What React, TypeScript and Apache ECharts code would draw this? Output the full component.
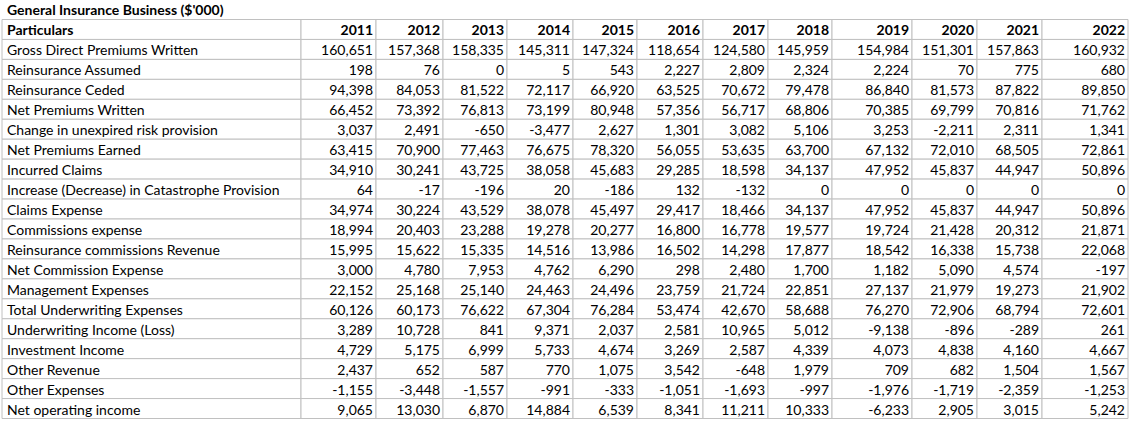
import React, { useEffect, useRef } from "react";
import * as echarts from "echarts";

const title = "General Insurance Business ($'000)";
const headerLabel = "Particulars";
const years = ["2011","2012","2013","2014","2015","2016","2017","2018","2019","2020","2021","2022"];
const particulars = [
  "Gross Direct Premiums Written",
  "Reinsurance Assumed",
  "Reinsurance Ceded",
  "Net Premiums Written",
  "Change in unexpired risk provision",
  "Net Premiums Earned",
  "Incurred Claims",
  "Increase (Decrease) in Catastrophe Provision",
  "Claims Expense",
  "Commissions expense",
  "Reinsurance commissions Revenue",
  "Net Commission Expense",
  "Management Expenses",
  "Total Underwriting Expenses",
  "Underwriting Income (Loss)",
  "Investment Income",
  "Other Revenue",
  "Other Expenses",
  "Net operating income",
];
const grossDirectPremiums = [160651,157368,158335,145311,147324,118654,124580,145959,154984,151301,157863,160932];
const reinsuranceAssumed = [198,76,0,5,543,2227,2809,2324,2224,70,775,680];
const reinsuranceCeded = [94398,84053,81522,72117,66920,63525,70672,79478,86840,81573,87822,89850];
const netPremiumsWritten = [66452,73392,76813,73199,80948,57356,56717,68806,70385,69799,70816,71762];
const changeUnexpiredRisk = [3037,2491,-650,-3477,2627,1301,3082,5106,3253,-2211,2311,1341];
const netPremiumsEarned = [63415,70900,77463,76675,78320,56055,53635,63700,67132,72010,68505,72861];
const incurredClaims = [34910,30241,43725,38058,45683,29285,18598,34137,47952,45837,44947,50896];
const catastropheProvision = [64,-17,-196,20,-186,132,-132,0,0,0,0,0];
const claimsExpense = [34974,30224,43529,38078,45497,29417,18466,34137,47952,45837,44947,50896];
const commissionsExpense = [18994,20403,23288,19278,20277,16800,16778,19577,19724,21428,20312,21871];
const reinsuranceCommissionsRevenue = [15995,15622,15335,14516,13986,16502,14298,17877,18542,16338,15738,22068];
const netCommissionExpense = [3000,4780,7953,4762,6290,298,2480,1700,1182,5090,4574,-197];
const managementExpenses = [22152,25168,25140,24463,24496,23759,21724,22851,27137,21979,19273,21902];
const totalUnderwritingExpenses = [60126,60173,76622,67304,76284,53474,42670,58688,76270,72906,68794,72601];
const underwritingIncome = [3289,10728,841,9371,2037,2581,10965,5012,-9138,-896,-289,261];
const investmentIncome = [4729,5175,6999,5733,4674,3269,2587,4339,4073,4838,4160,4667];
const otherRevenue = [2437,652,587,770,1075,3542,-648,1979,709,682,1504,1567];
const otherExpenses = [-1155,-3448,-1557,-991,-333,-1051,-1693,-997,-1976,-1719,-2359,-1253];
const netOperatingIncome = [9065,13030,6870,14884,6539,8341,11211,10333,-6233,2905,3015,5242];

const seriesRows = [
  grossDirectPremiums, reinsuranceAssumed, reinsuranceCeded, netPremiumsWritten,
  changeUnexpiredRisk, netPremiumsEarned, incurredClaims, catastropheProvision,
  claimsExpense, commissionsExpense, reinsuranceCommissionsRevenue, netCommissionExpense,
  managementExpenses, totalUnderwritingExpenses, underwritingIncome, investmentIncome,
  otherRevenue, otherExpenses, netOperatingIncome,
];

// layout: column edges in grid units (pixels inside the grid)
const colEdges = [0, 299, 374, 441, 505, 571, 635, 701, 766, 830, 910, 975, 1040, 1126];
const FONT = "Lato";
const FS = 14;
const LINE = "#c0c0c0";

const fmt = (v: number) => v.toLocaleString("en-US");

export default function App() {
  const ref = useRef<HTMLDivElement>(null);
  useEffect(() => {
    if (!ref.current) return;
    const chart = echarts.init(ref.current, undefined, { renderer: "svg" });
    const rowNames = [headerLabel, ...particulars];
    const cells: any[] = [];
    rowNames.forEach((name, r) => {
      cells.push([0, r, name]);
      for (let c = 0; c < years.length; c++) {
        const txt = r === 0 ? years[c] : fmt(seriesRows[r - 1][c]);
        cells.push([c + 1, r, txt]);
      }
    });
    chart.setOption({
      animation: false,
      title: {
        text: title,
        left: 7,
        top: 2,
        padding: 0,
        textStyle: { fontFamily: FONT, fontSize: FS, fontWeight: "bold", color: "#000" },
      },
      grid: { left: 2, top: 19.5, width: 1126, height: 399 },
      xAxis: { type: "value", min: 0, max: 1126, show: false },
      yAxis: { type: "category", data: rowNames, inverse: true, show: false },
      series: [
        {
          type: "custom",
          data: cells,
          encode: { x: 0, y: 1 },
          renderItem: (params: any, api: any) => {
            const c = api.value(0);
            const r = api.value(1);
            const text = cells[params.dataIndex][2];
            const left = api.coord([colEdges[c], r])[0];
            const right = api.coord([colEdges[c + 1], r])[0];
            const cy = api.coord([0, r])[1];
            const h = api.size([0, 1])[1];
            const top = cy - h / 2;
            const bold = r === 0;
            return {
              type: "group",
              children: [
                {
                  type: "rect",
                  shape: { x: left, y: top, width: right - left, height: h },
                  style: { fill: "#fff", stroke: LINE, lineWidth: 1 },
                },
                {
                  type: "text",
                  style: {
                    text,
                    x: c === 0 ? left + 5 : right - 3,
                    y: cy + 0.5,
                    align: c === 0 ? "left" : "right",
                    verticalAlign: "middle",
                    fontFamily: FONT,
                    fontSize: FS,
                    fontWeight: bold ? "bold" : "normal",
                    fill: "#000",
                  },
                },
              ],
            };
          },
        },
      ],
    });
    return () => chart.dispose();
  }, []);
  return (
    <div
      ref={ref}
      style={{ position: "absolute", left: 0, top: 0, width: 1132, height: 424, background: "#fff" }}
    />
  );
}
